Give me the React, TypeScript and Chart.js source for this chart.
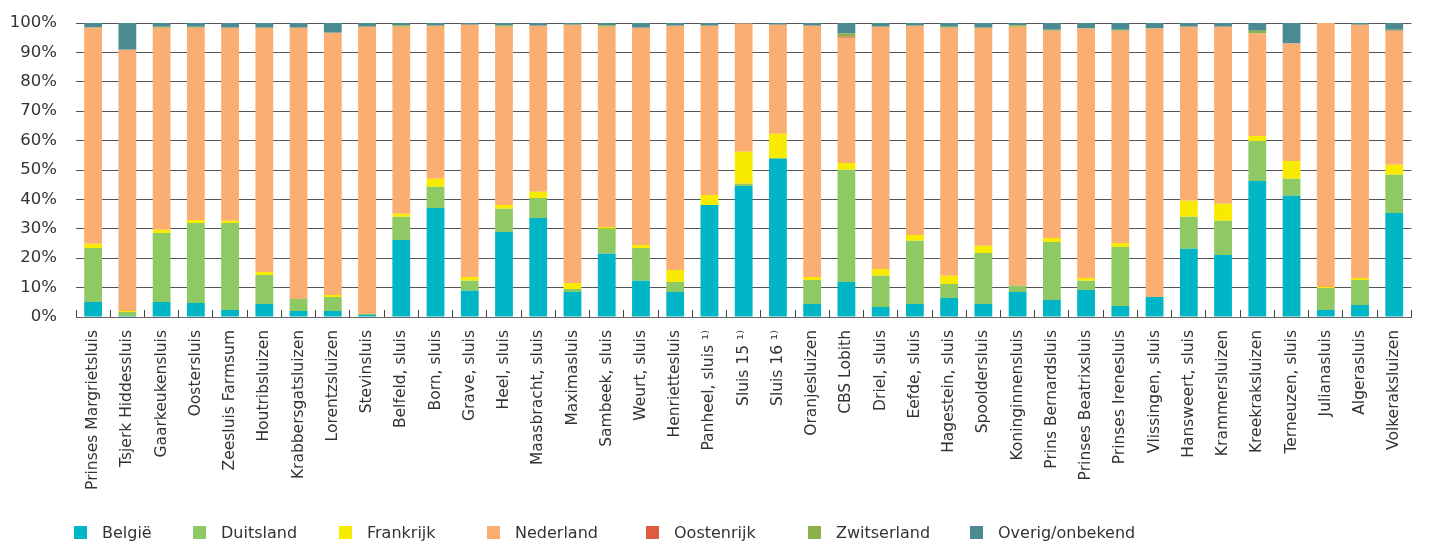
import React, { useEffect, useRef } from "react";
import { Chart, registerables } from "chart.js";

Chart.register(...registerables);

const categories = [
  "Prinses Margrietsluis", "Tsjerk Hiddessluis", "Gaarkeukensluis", "Oostersluis", "Zeesluis Farmsum",
  "Houtribsluizen", "Krabbersgatsluizen", "Lorentzsluizen", "Stevinsluis", "Belfeld, sluis",
  "Born, sluis", "Grave, sluis", "Heel, sluis", "Maasbracht, sluis", "Maximasluis",
  "Sambeek, sluis", "Weurt, sluis", "Henriettesluis", "Panheel, sluis \u00B9\u207E", "Sluis 15 \u00B9\u207E",
  "Sluis 16 \u00B9\u207E", "Oranjesluizen", "CBS Lobith", "Driel, sluis", "Eefde, sluis",
  "Hagestein, sluis", "Spooldersluis", "Koninginnensluis", "Prins Bernardsluis", "Prinses Beatrixsluis",
  "Prinses Irenesluis", "Vlissingen, sluis", "Hansweert, sluis", "Krammersluizen", "Kreekraksluizen",
  "Terneuzen, sluis", "Julianasluis", "Algerasluis", "Volkeraksluizen",
];

const belgie = [5.1, 0.3, 5.1, 4.8, 2.4, 4.4, 2.0, 2.0, 0.7, 26.2, 37.1, 8.9, 28.9, 33.7, 8.5, 21.5, 12.3, 8.5, 38.1, 44.6, 53.8, 4.4, 11.9, 3.4, 4.4, 6.5, 4.4, 8.5, 5.8, 9.2, 3.7, 6.8, 23.2, 21.1, 46.3, 41.2, 2.4, 4.1, 35.4];
const duitsland = [18.4, 1.4, 23.5, 27.2, 29.6, 9.9, 4.1, 4.8, 0.3, 7.9, 7.2, 3.4, 7.9, 6.8, 1.0, 8.5, 11.2, 3.4, 0, 0.7, 0.3, 8.2, 38.2, 10.6, 21.5, 4.7, 17.4, 2.1, 19.7, 3.1, 20.1, 0, 10.9, 11.6, 13.6, 5.8, 7.5, 8.5, 13.0];
const frankrijk = [1.4, 0.3, 1.1, 1.0, 0.7, 1.0, 0, 0.7, 0, 1.0, 2.7, 1.3, 1.3, 2.1, 2.1, 0.6, 1.0, 4.1, 3.4, 10.9, 8.2, 1.0, 2.3, 2.3, 2.0, 2.8, 2.4, 0, 1.4, 1.0, 1.4, 0, 5.4, 5.8, 1.7, 6.1, 0.3, 0.7, 3.4];
const nederland = [73.5, 88.9, 68.7, 65.4, 65.7, 83.1, 92.3, 89.2, 97.7, 63.6, 52.1, 85.8, 60.6, 56.5, 87.8, 68.1, 73.9, 83.1, 57.6, 43.6, 37.1, 85.5, 42.6, 82.4, 71.2, 84.4, 74.2, 88.1, 70.5, 84.8, 72.2, 91.3, 59.2, 60.2, 34.8, 39.9, 89.8, 86.1, 45.3];
const oostenrijk = [0, 0, 0, 0, 0, 0, 0, 0, 0, 0, 0, 0, 0, 0, 0, 0, 0, 0, 0, 0, 0, 0, 0.3, 0, 0, 0, 0, 0, 0, 0, 0, 0, 0, 0, 0, 0, 0, 0, 0.3];
const zwitserland = [0.1, 0, 0.3, 0.3, 0, 0, 0, 0, 0, 0.5, 0, 0, 0.5, 0, 0, 0.5, 0, 0, 0, 0, 0, 0, 1.1, 0, 0, 0.3, 0, 0.5, 0.3, 0, 0.3, 0, 0, 0, 1.0, 0, 0, 0, 0.3];
const overig = [1.5, 9.1, 1.3, 1.3, 1.6, 1.6, 1.6, 3.3, 1.3, 0.8, 0.9, 0.6, 0.8, 0.9, 0.6, 0.8, 1.6, 0.9, 0.9, 0.2, 0.6, 0.9, 3.6, 1.3, 0.9, 1.3, 1.6, 0.8, 2.3, 1.9, 2.3, 1.9, 1.3, 1.3, 2.6, 7.0, 0, 0.6, 2.3];

const seriesNames = ["België", "Duitsland", "Frankrijk", "Nederland", "Oostenrijk", "Zwitserland", "Overig/onbekend"];
const seriesValues = [belgie, duitsland, frankrijk, nederland, oostenrijk, zwitserland, overig];
const seriesColors = ["#00B5C6", "#8FC963", "#F9EB00", "#FAAE71", "#DE5A41", "#8CB04B", "#4C8A92"];

const yTicks = [0, 10, 20, 30, 40, 50, 60, 70, 80, 90, 100];

// layout
const LEGEND_X = [74, 193, 339, 487, 646, 808, 970];
const FONT = "'DejaVu Sans', sans-serif";
const TEXT = "#333333";

export default function App() {
  const ref = useRef<HTMLCanvasElement | null>(null);

  useEffect(() => {
    if (!ref.current) return;
    const chart = new Chart(ref.current, {
      type: "bar",
      data: {
        labels: categories,
        datasets: seriesNames.map((name, i) => ({
          label: name,
          data: seriesValues[i],
          backgroundColor: seriesColors[i],
          borderWidth: 0,
          barPercentage: 0.52,
          categoryPercentage: 1.0,
        })),
      },
      options: {
        responsive: false,
        animation: false,
        layout: { padding: { left: 0, right: 12, top: 23, bottom: 0 } },
        plugins: {
          legend: { display: false },
          tooltip: { enabled: false },
        },
        scales: {
          x: {
            stacked: true,
            offset: true,
            grid: {
              offset: true,
              drawOnChartArea: false,
              drawTicks: true,
              tickLength: -7,
              color: "#444444",
              lineWidth: 1,
            },
            border: { display: true, color: "#666666", width: 1 },
            ticks: {
              autoSkip: false,
              minRotation: 90,
              maxRotation: 90,
              padding: 20,
              color: TEXT,
              font: { family: FONT, size: 15.5 },
            },
            afterFit: (scale: any) => {
              scale.height = 225;
            },
          },
          y: {
            stacked: true,
            min: 0,
            max: 100,
            afterBuildTicks: (scale: any) => {
              scale.ticks = yTicks.map((v) => ({ value: v }));
            },
            grid: {
              drawTicks: false,
              color: "#555555",
              lineWidth: 1,
            },
            border: { display: false },
            ticks: {
              padding: 19,
              color: TEXT,
              font: { family: FONT, size: 16.5 },
              callback: (v: any) => v + "%",
            },
            afterFit: (scale: any) => {
              scale.width = 76;
              scale.paddingTop = 0;
              scale.paddingBottom = 0;
            },
          },
        },
      },
    });
    return () => chart.destroy();
  }, []);

  return (
    <div style={{ position: "fixed", left: 0, top: 0, width: 1433, height: 542, background: "#fff" }}>
      <canvas ref={ref} width={1433} height={542} style={{ position: "absolute", left: 0, top: 0 }} />
      {seriesNames.map((name, i) => (
        <div
          key={name}
          style={{
            position: "absolute",
            left: LEGEND_X[i],
            top: 522,
            height: 20,
            display: "flex",
            alignItems: "center",
            fontFamily: FONT,
            fontSize: 16,
            color: TEXT,
            whiteSpace: "nowrap",
          }}
        >
          <span style={{ display: "inline-block", width: 13, height: 13, background: seriesColors[i], marginRight: 15 }} />
          <span>{name}</span>
        </div>
      ))}
    </div>
  );
}
